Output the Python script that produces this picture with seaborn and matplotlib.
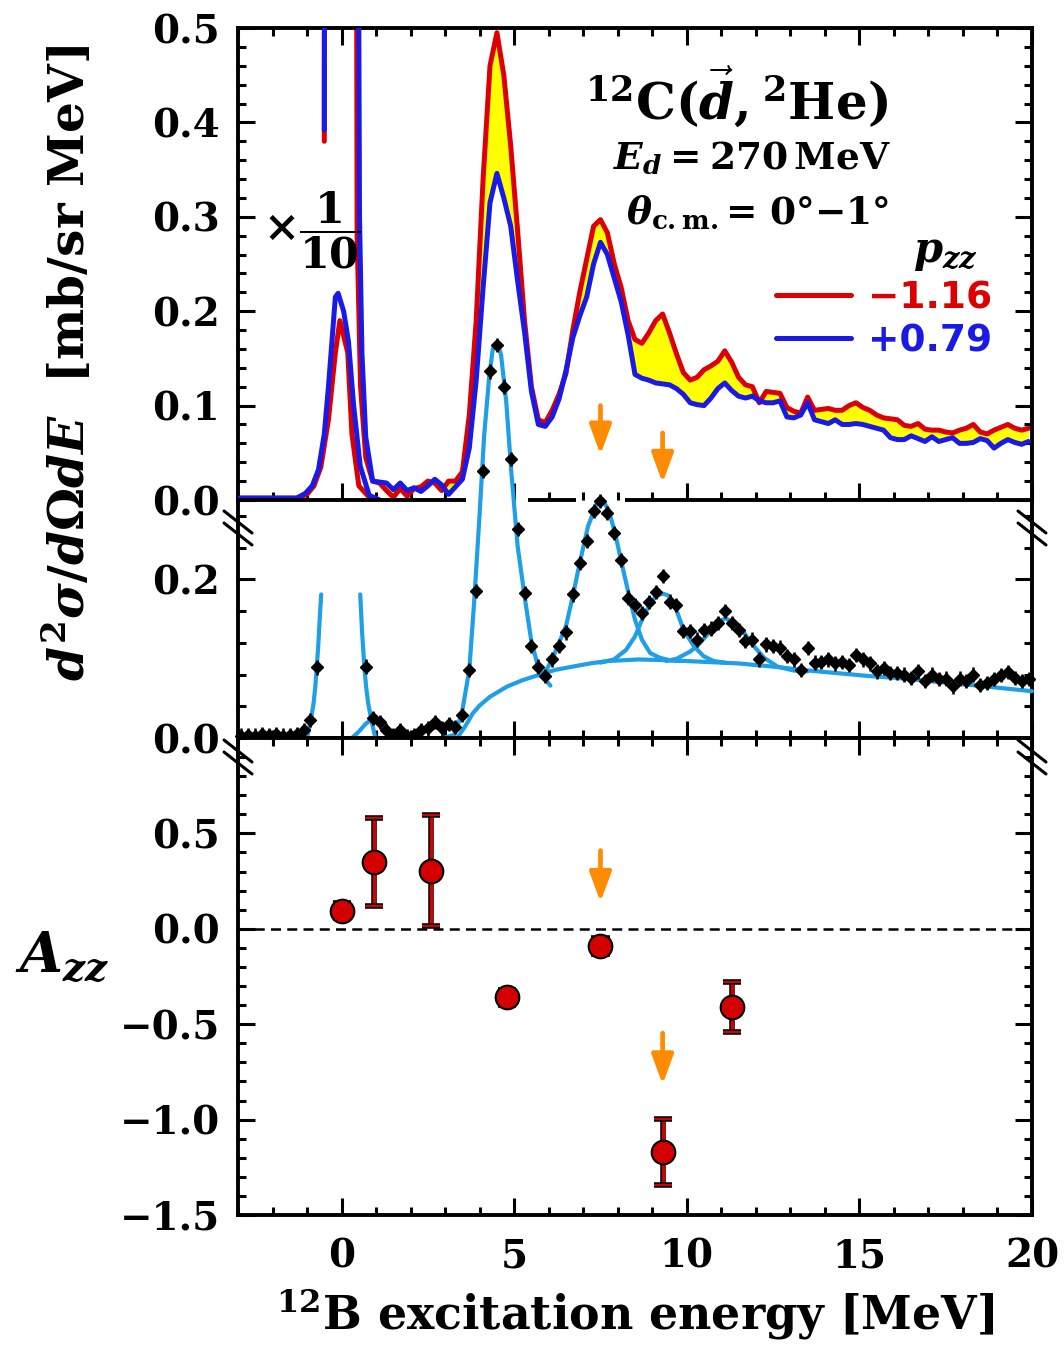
import numpy as np
import matplotlib.pyplot as plt
import matplotlib.patheffects as pe
from matplotlib.lines import Line2D
from matplotlib.ticker import MultipleLocator, FuncFormatter
import seaborn as sns

sns.set_theme(style='ticks')
plt.rcParams['font.family'] = ['DejaVu Serif']
plt.rcParams['font.weight'] = 'bold'
plt.rcParams['mathtext.fontset'] = 'custom'
plt.rcParams['mathtext.rm'] = 'DejaVu Serif:bold'
plt.rcParams['mathtext.it'] = 'DejaVu Serif:italic:bold'
plt.rcParams['mathtext.bf'] = 'DejaVu Serif:bold'
plt.rcParams['axes.linewidth'] = 2.8
plt.rcParams['axes.edgecolor'] = 'black'
plt.rcParams['text.color'] = 'black'
plt.rcParams['axes.labelcolor'] = 'black'
plt.rcParams['xtick.color'] = 'black'
plt.rcParams['ytick.color'] = 'black'

RED = '#DD0000'
BLUE = '#1A1AE6'
FIT = '#1F9FE6'
ORANGE = '#FF8C00'
YELLOW = '#FFFF00'

# ---- top panel: spectra for p_zz = -1.16 (red) and +0.79 (blue) ----
# ground state peak scaled by 1/10
gs_E_red = [-3.0, -1.3, -1.0, -0.8, -0.6, -0.38, -0.18, -0.05, 0.18, 0.3, 0.5, 0.8, 1.1]
gs_red = [0.002, 0.002, 0.006, 0.015, 0.035, 0.085, 0.156, 0.19, 0.156, 0.07, 0.015, 0.003, 0.0]
gs_E_blue = [-3.0, -1.3, -1.05, -0.85, -0.67, -0.5, -0.38, -0.18, -0.1, 0.06, 0.2, 0.35, 0.54, 0.8, 1.1]
gs_blue = [0.002, 0.002, 0.007, 0.015, 0.032, 0.07, 0.12, 0.215, 0.219, 0.2, 0.168, 0.1, 0.036, 0.005, 0.0]

# unscaled spectrum, off-scale part around the ground state
peak_E_red = [-0.5, -0.49, 0.42, 0.45, 0.55]
peak_red = [0.38, 0.9, 0.9, 0.28, 0.12]
peak_E_blue = [-0.5, -0.49, 0.46, 0.52, 0.59]
peak_blue = [0.392, 0.9, 0.9, 0.3, 0.156]

# unscaled spectrum, 0.7 - 19.9 MeV in 0.2 MeV bins
spec_E = np.round(np.arange(0.7, 20.0, 0.2), 1)
spec_red = [0.045, 0.020,
            0.018, 0.010, 0.003, 0.012, 0.004,
            0.012, 0.014, 0.020, 0.018, 0.010,
            0.020, 0.020, 0.030, 0.090, 0.190,
            0.340, 0.460, 0.495, 0.450, 0.375,
            0.285, 0.190, 0.120, 0.085, 0.082,
            0.095, 0.112, 0.134, 0.180, 0.220,
            0.255, 0.290, 0.297, 0.283, 0.250,
            0.225, 0.190, 0.170, 0.166, 0.177,
            0.190, 0.197, 0.177, 0.155, 0.135,
            0.127, 0.130, 0.138, 0.142, 0.147,
            0.158, 0.146, 0.130, 0.122, 0.120,
            0.103, 0.115, 0.114, 0.113, 0.098,
            0.094, 0.092, 0.109, 0.095, 0.096,
            0.097, 0.095, 0.095, 0.100, 0.103,
            0.098, 0.095, 0.090, 0.087, 0.086,
            0.085, 0.079, 0.078, 0.081, 0.075,
            0.074, 0.074, 0.072, 0.071, 0.074,
            0.076, 0.080, 0.072, 0.070, 0.074,
            0.077, 0.080, 0.076, 0.074, 0.076]
spec_blue = [0.067, 0.020,
             0.019, 0.018, 0.011, 0.018, 0.010,
             0.013, 0.009, 0.015, 0.022, 0.016,
             0.006, 0.014, 0.022, 0.055, 0.127,
             0.225, 0.315, 0.346, 0.320, 0.290,
             0.232, 0.178, 0.115, 0.080, 0.078,
             0.088, 0.107, 0.137, 0.172, 0.195,
             0.215, 0.250, 0.273, 0.260, 0.235,
             0.210, 0.175, 0.133, 0.129, 0.127,
             0.124, 0.123, 0.122, 0.118, 0.112,
             0.103, 0.101, 0.100, 0.108, 0.118,
             0.124, 0.116, 0.110, 0.108, 0.110,
             0.105, 0.103, 0.103, 0.105, 0.088,
             0.087, 0.090, 0.103, 0.085, 0.083,
             0.081, 0.085, 0.080, 0.080, 0.081,
             0.080, 0.078, 0.076, 0.074, 0.066,
             0.064, 0.064, 0.068, 0.065, 0.062,
             0.067, 0.062, 0.064, 0.066, 0.060,
             0.060, 0.061, 0.065, 0.063, 0.055,
             0.060, 0.064, 0.061, 0.059, 0.062]

# ---- middle panel: unpolarized spectrum + peak fit ----
mid_E = np.round(np.arange(-2.9, 20.0, 0.2), 1)
mid_data = [0.003, 0.004, 0.003, 0.005, 0.004,
            0.005, 0.003, 0.004, 0.005, 0.010,
            0.023, 0.089, np.nan, np.nan, np.nan,
            np.nan, np.nan, np.nan, 0.090, 0.025,
            0.020, 0.010, 0.004, 0.010, 0.002,
            0.004, 0.010, 0.012, 0.020, 0.012,
            0.018, 0.014, 0.029, 0.086, 0.185,
            0.337, 0.462, 0.495, 0.443, 0.352,
            0.263, 0.183, 0.116, 0.090, 0.078,
            0.099, 0.116, 0.133, 0.181, 0.221,
            0.248, 0.286, 0.299, 0.284, 0.258,
            0.224, 0.177, 0.168, 0.158, 0.171,
            0.184, 0.204, 0.172, 0.168, 0.135,
            0.135, 0.124, 0.136, 0.138, 0.145,
            0.160, 0.145, 0.136, 0.122, 0.124,
            0.099, 0.118, 0.116, 0.114, 0.103,
            0.099, 0.086, 0.113, 0.095, 0.096,
            0.099, 0.094, 0.096, 0.092, 0.105,
            0.099, 0.094, 0.084, 0.088, 0.082,
            0.082, 0.080, 0.076, 0.084, 0.072,
            0.080, 0.074, 0.075, 0.065, 0.075,
            0.072, 0.080, 0.067, 0.069, 0.074,
            0.079, 0.083, 0.076, 0.072, 0.074]
mid_err = 0.009

fit_gsL_E = [-1.0, -0.9, -0.81, -0.76, -0.72, -0.68, -0.65, -0.62, -0.59]
fit_gsL = [0.0, 0.02, 0.044, 0.065, 0.089, 0.113, 0.137, 0.16, 0.181]
fit_gsR_E = [0.54, 0.565, 0.59, 0.625, 0.66, 0.71, 0.77, 0.88, 0.98]
fit_gsR = [0.181, 0.16, 0.137, 0.113, 0.09, 0.065, 0.044, 0.019, 0.0]
fit_1_E = [0.3, 0.5, 0.7, 0.9, 1.1, 1.3, 1.5, 1.7]
fit_1 = [0.0, 0.008, 0.018, 0.024, 0.021, 0.012, 0.004, 0.0]
fit_45_E = [2.95, 3.26, 3.48, 3.7, 3.84, 3.99, 4.13, 4.28, 4.38, 4.47, 4.55, 4.62,
            4.77, 4.91, 5.1, 5.3, 5.49, 5.69, 5.91, 6.05]
fit_45 = [0.0, 0.004, 0.03, 0.086, 0.171, 0.276, 0.381, 0.457, 0.49, 0.497, 0.493, 0.483,
          0.424, 0.339, 0.242, 0.179, 0.124, 0.09, 0.073, 0.066]
fit_75_E = [5.7, 5.91, 6.1, 6.3, 6.5, 6.7, 6.9, 7.14, 7.39, 7.5, 7.6, 7.73, 7.92,
            8.11, 8.31, 8.5, 8.7, 8.94, 9.23, 9.5, 9.8]
fit_75 = [0.079, 0.084, 0.099, 0.12, 0.141, 0.179, 0.221, 0.267, 0.295, 0.299, 0.297, 0.288, 0.259,
          0.221, 0.183, 0.149, 0.124, 0.107, 0.101, 0.098, 0.097]
fit_93_E = [7.5, 7.89, 8.24, 8.5, 8.79, 9.1, 9.3, 9.45, 9.62, 9.9, 10.2, 10.49, 10.78, 11.1]
fit_93 = [0.095, 0.099, 0.111, 0.128, 0.158, 0.179, 0.182, 0.18, 0.171, 0.137, 0.116, 0.103, 0.097, 0.095]
fit_11_E = [9.4, 9.71, 10.1, 10.3, 10.59, 10.88, 11.12, 11.36, 11.65, 11.94, 12.24, 12.63, 13.1, 13.5]
fit_11 = [0.097, 0.1, 0.109, 0.116, 0.13, 0.145, 0.151, 0.145, 0.133, 0.116, 0.101, 0.09, 0.085, 0.084]
fit_bg_E = [3.35, 3.6, 3.8, 4.0, 4.3, 4.8, 5.25, 5.75, 6.2, 6.7, 7.2, 7.7, 8.6, 9.5,
            10.5, 11.5, 12.5, 13.3, 14.3, 15.3, 16.3, 17.2, 18.2, 19.1, 20.0]
fit_bg = [0.0, 0.016, 0.031, 0.041, 0.052, 0.065, 0.073, 0.08, 0.086, 0.09, 0.094, 0.097, 0.099, 0.098,
          0.096, 0.094, 0.09, 0.086, 0.082, 0.078, 0.075, 0.071, 0.067, 0.063, 0.059]

# ---- bottom panel: analyzing power A_zz ----
azz_E = [0.0, 0.95, 2.6, 4.8, 7.5, 9.3, 11.3]
azz = [0.095, 0.35, 0.305, -0.36, -0.09, -1.17, -0.41]
azz_err = [0.04, 0.23, 0.29, 0.04, 0.04, 0.175, 0.13]

# states marked with arrows
arrow_E = [7.5, 9.3]
arrow_top_tail = [0.100, 0.071]
arrow_top_tip = [0.048, 0.018]
arrow_bot_tail = [0.41, -0.547]
arrow_bot_tip = [0.14, -0.816]

W, H = 1064, 1354
fig = plt.figure(figsize=(W / 100, H / 100), dpi=100)


def box(x0, y0, x1, y1):
    return [x0 / W, 1 - y1 / H, (x1 - x0) / W, (y1 - y0) / H]


def fmt1(v, pos):
    return f'{v:.1f}'.replace('-', '\u2212')


ax_top = fig.add_axes(box(238, 28, 1032, 500))
ax_mid = fig.add_axes(box(238, 500, 1032, 738))
ax_bot = fig.add_axes(box(238, 738, 1032, 1215))

for ax in (ax_top, ax_mid, ax_bot):
    ax.set_xlim(-3, 20)
    ax.xaxis.set_major_locator(MultipleLocator(5))
    ax.xaxis.set_minor_locator(MultipleLocator(1))
    ax.tick_params(which='both', direction='in', width=2.2, color='black',
                   left=True, right=True, labelsize=28, pad=13)
    ax.tick_params(which='major', length=12)
    ax.tick_params(which='minor', length=6)
    ax.yaxis.set_major_formatter(FuncFormatter(fmt1))

ax_top.spines['bottom'].set_visible(False)
ax_mid.spines['top'].set_visible(False)
ax_top.tick_params(which='both', top=True, bottom=True, labelbottom=False)
ax_mid.tick_params(which='both', top=False, bottom=True, labelbottom=False)
ax_bot.tick_params(which='both', top=True, bottom=True)
ax_bot.tick_params(axis='x', pad=16)

# top panel
ax_top.set_ylim(0, 0.5)
ax_top.yaxis.set_major_locator(MultipleLocator(0.1))
ax_top.yaxis.set_minor_locator(MultipleLocator(0.02))
ax_top.fill_between(spec_E, spec_red, spec_blue, color=YELLOW, lw=0, zorder=1)
sns.lineplot(x=gs_E_red, y=gs_red, ax=ax_top, color=RED, lw=3.6, sort=False, estimator=None, zorder=2)
sns.lineplot(x=list(peak_E_red) + list(spec_E), y=peak_red + spec_red, ax=ax_top,
             color=RED, lw=3.6, sort=False, estimator=None, zorder=2)
sns.lineplot(x=gs_E_blue, y=gs_blue, ax=ax_top, color=BLUE, lw=3.6, sort=False, estimator=None, zorder=3)
sns.lineplot(x=list(peak_E_blue) + list(spec_E), y=peak_blue + spec_blue, ax=ax_top,
             color=BLUE, lw=3.6, sort=False, estimator=None, zorder=3)

# zero line of the upper panel, opened where the middle spectrum rises through it
over = np.nan_to_num(np.array(mid_data, dtype=float)) > 0.28
gaps = []
i = 0
while i < len(over):
    if over[i]:
        j = i
        while j + 1 < len(over) and over[j + 1]:
            j += 1
        gaps.append((mid_E[i] - 0.5, mid_E[j] + 0.5))
        i = j + 1
    else:
        i += 1
seg_start = [-3.0] + [g[1] for g in gaps]
seg_end = [g[0] for g in gaps] + [20.0]
ax_top.hlines(np.zeros(len(seg_start)), seg_start, seg_end, colors='black', lw=2.8,
              zorder=6, clip_on=False)

for e, t0, t1 in zip(arrow_E, arrow_top_tail, arrow_top_tip):
    ax_top.annotate('', xy=(e, t1), xytext=(e, t0),
                    arrowprops=dict(arrowstyle='-|>,head_length=1.5,head_width=0.55',
                                    lw=3.4, color=ORANGE, shrinkA=0, shrinkB=0))

ax_top.text(0.628, 0.855, r'$^{12}$C$(\vec{d},{}^{2}$He$)$', transform=ax_top.transAxes,
            ha='center', va='center', fontsize=36)
ax_top.text(0.647, 0.722, r'$E_d = 270\,$MeV', transform=ax_top.transAxes,
            ha='center', va='center', fontsize=27)
ax_top.text(0.654, 0.608, '$\\theta_{\\mathrm{c.m.}}$= 0\u00b0\u22121\u00b0', transform=ax_top.transAxes,
            ha='center', va='center', fontsize=27)
ax_top.text(0.093, 0.572, r'$\times\dfrac{1}{10}$', transform=ax_top.transAxes,
            ha='center', va='center', fontsize=31)

handles = [Line2D([], [], color=RED, lw=3.6), Line2D([], [], color=BLUE, lw=3.6)]
leg = ax_top.legend(handles, ['\u22121.16', '+0.79'], title=r'$p_{zz}$', loc='upper right',
                    bbox_to_anchor=(0.95, 0.575), frameon=False,
                    prop=dict(family='DejaVu Sans', weight='bold', size=27),
                    title_fontsize=30, handlelength=2.0, handletextpad=0.45,
                    labelspacing=0.2, alignment='right', borderaxespad=0, borderpad=0)
leg.get_title().set_position((-15, 0))
for txt, c in zip(leg.get_texts(), [RED, BLUE]):
    txt.set_color(c)

# middle panel
ax_mid.set_ylim(0, 0.3)
ax_mid.set_yticks([0.0, 0.2])
ax_mid.yaxis.set_minor_locator(MultipleLocator(0.04))
ax_mid.set_facecolor('none')
for fx, fy in [(fit_bg_E, fit_bg), (fit_gsL_E, fit_gsL), (fit_gsR_E, fit_gsR), (fit_1_E, fit_1),
               (fit_45_E, fit_45), (fit_75_E, fit_75), (fit_93_E, fit_93), (fit_11_E, fit_11)]:
    sns.lineplot(x=fx, y=fy, ax=ax_mid, color=FIT, lw=3.0, sort=False, estimator=None,
                 clip_on=False, zorder=3)
eb = ax_mid.errorbar(mid_E, mid_data, yerr=mid_err, fmt='D', ms=6.3, color='black',
                     ecolor='black', elinewidth=1.8, capsize=0, zorder=5)
for art in eb.get_children():
    art.set_clip_on(False)

# bottom panel
ax_bot.set_ylim(-1.5, 1.0)
ax_bot.set_yticks([-1.5, -1.0, -0.5, 0.0, 0.5])
ax_bot.yaxis.set_minor_locator(MultipleLocator(0.1))
ax_bot.axhline(0, color='black', lw=1.8, ls=(0, (4, 2.5)), zorder=1)
eb2 = ax_bot.errorbar(azz_E, azz, yerr=azz_err, fmt='o', ms=17, mfc='#D40000', mec='black',
                      mew=1.5, ecolor='#D40000', elinewidth=2.4, capsize=6.5, capthick=2.6, zorder=4)
for art in list(eb2[1]) + list(eb2[2]):
    art.set_path_effects([pe.Stroke(linewidth=4.0, foreground='black'), pe.Normal()])
for e, t0, t1 in zip(arrow_E, arrow_bot_tail, arrow_bot_tip):
    ax_bot.annotate('', xy=(e, t1), xytext=(e, t0),
                    arrowprops=dict(arrowstyle='-|>,head_length=1.5,head_width=0.55',
                                    lw=3.4, color=ORANGE, shrinkA=0, shrinkB=0))
ax_bot.set_xticks([0, 5, 10, 15, 20])
ax_bot.set_xticklabels(['0', '5', '10', '15', '20'])
ax_bot.set_xlabel(r'$^{12}$B excitation energy [MeV]', fontsize=33, fontweight='bold', labelpad=8)

# axis titles
fig.text(68 / W, 1 - 363 / H, r'$d^2\sigma/d\Omega dE$  [mb/sr MeV]', rotation=90,
         ha='center', va='center', fontsize=35)
fig.text(62 / W, 1 - 957 / H, r'$A_{zz}$', ha='center', va='center', fontsize=40)


# break marks on the frame
def break_mark(px, py):
    for dy in (-6, 6):
        fig.add_artist(Line2D([(px - 14) / W, (px + 14) / W],
                              [1 - (py + dy - 11) / H, 1 - (py + dy + 11) / H],
                              color='black', lw=2.2))


for px in (238, 1032):
    for py in (528, 757):
        break_mark(px, py)

fig.savefig('out.png', dpi=100)
